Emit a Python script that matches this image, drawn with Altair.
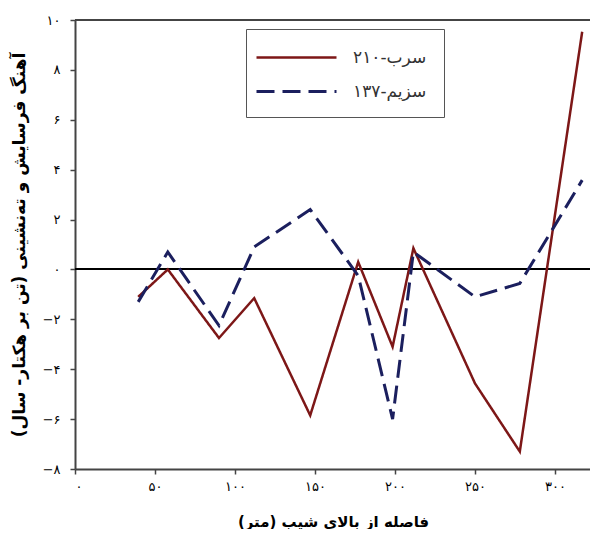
import altair as alt
import pandas as pd

# ---- data ----
distance = [39.5, 58, 90, 112, 147, 177, 198.5, 211.5, 250, 278, 317]
pb210 = [-1.1, 0.0, -2.75, -1.15, -5.85, 0.3, -3.1, 0.85, -4.57, -7.3, 9.53]
cs137 = [-1.3, 0.7, -2.25, 0.9, 2.4, -0.25, -6.0, 0.7, -1.1, -0.56, 3.58]
series_names = ["سرب-۲۱۰", "سزیم-۱۳۷"]

x_ticks = [0, 50, 100, 150, 200, 250, 300]
x_tick_labels = ["۰", "۵۰", "۱۰۰", "۱۵۰", "۲۰۰", "۲۵۰", "۳۰۰"]
y_ticks = [-8, -6, -4, -2, 0, 2, 4, 6, 8, 10]
y_tick_labels = ["−۸", "−۶", "−۴", "−۲", "۰", "۲", "۴", "۶", "۸", "۱۰"]

x_title = "فاصله از بالای شیب (متر)\u200f"
y_title = "\u200fآهنگ فرسایش و ته‌نشینی (تن بر هکتار- سال)\u200f"

rows = []
for d, v in zip(distance, pb210):
    rows.append({"x": d, "value": v, "series": series_names[0]})
for d, v in zip(distance, cs137):
    rows.append({"x": d, "value": v, "series": series_names[1]})
df = pd.DataFrame(rows)


def label_expr(values, labels):
    arr = "[" + ",".join("'" + s + "'" for s in labels) + "]"
    vals = "[" + ",".join(str(v) for v in values) + "]"
    return f"{arr}[indexof({vals}, datum.value)]"


FONT = "DejaVu Sans"
RED = "#7d1717"
BLUE = "#1b1f5e"
FRAME = "#444444"

legend = alt.Legend(
    title=None,
    orient="none",
    legendX=171,
    legendY=9,
    symbolType="M-4,0H4",
    symbolSize=400,
    symbolStrokeWidth=3,
    symbolOffset=22,
    labelOffset=45,
    labelExpr="datum.label + '\u2003'",
    rowPadding=14,
    labelFontSize=17,
    labelFont=FONT,
    labelColor="#333333",
    labelLimit=0,
    padding=17,
    strokeColor="#555555",
    fillColor="white",
)

x_enc = alt.X(
    "x:Q",
    scale=alt.Scale(domain=[0, 321.875], nice=False, zero=False),
    axis=alt.Axis(
        values=x_ticks,
        labelExpr=label_expr(x_ticks, x_tick_labels),
        title=x_title,
        grid=False,
        labelPadding=6,
        titlePadding=21,
        titleX=258,
        titleFontSize=15,
    ),
)
y_enc = alt.Y(
    "value:Q",
    scale=alt.Scale(domain=[-8, 10], nice=False),
    axis=alt.Axis(
        values=y_ticks,
        labelExpr=label_expr(y_ticks, y_tick_labels),
        title=y_title,
        grid=False,
        labelPadding=10,
        titlePadding=14,
        titleFontSize=17,
    ),
)

lines = alt.Chart(df).mark_line(strokeJoin="miter", strokeCap="butt").encode(
    x=x_enc,
    y=y_enc,
    color=alt.Color("series:N", scale=alt.Scale(domain=series_names, range=[RED, BLUE]), legend=legend),
    strokeDash=alt.StrokeDash(
        "series:N", scale=alt.Scale(domain=series_names, range=[[1, 0], [18, 8]]), legend=legend
    ),
    strokeWidth=alt.StrokeWidth(
        "series:N", scale=alt.Scale(domain=series_names, range=[2.5, 3]), legend=None
    ),
    order="x:Q",
)

zero = alt.Chart(df).mark_rule(color="black", strokeWidth=1.2).encode(y=alt.datum(0))
top = alt.Chart(df).mark_rule(color=FRAME, strokeWidth=2).encode(y=alt.datum(10))

chart = (
    alt.layer(zero, top, lines)
    .properties(
        width=515,
        height=449,
        autosize=alt.AutoSizeParams(type="none"),
        padding={"left": 67, "top": 12, "right": 0, "bottom": 60},
    )
    .configure_view(stroke="transparent")
    .configure_axis(
        domainColor=FRAME,
        domainWidth=2,
        tickColor=FRAME,
        tickWidth=1.5,
        tickSize=5,
        labelFont=FONT,
        labelFontSize=13,
        labelColor="black",
        titleFont=FONT,
        titleFontWeight="bold",
        titleColor="black",
    )
)

chart.save("out.html", embed_options={"renderer": "svg", "actions": False})
